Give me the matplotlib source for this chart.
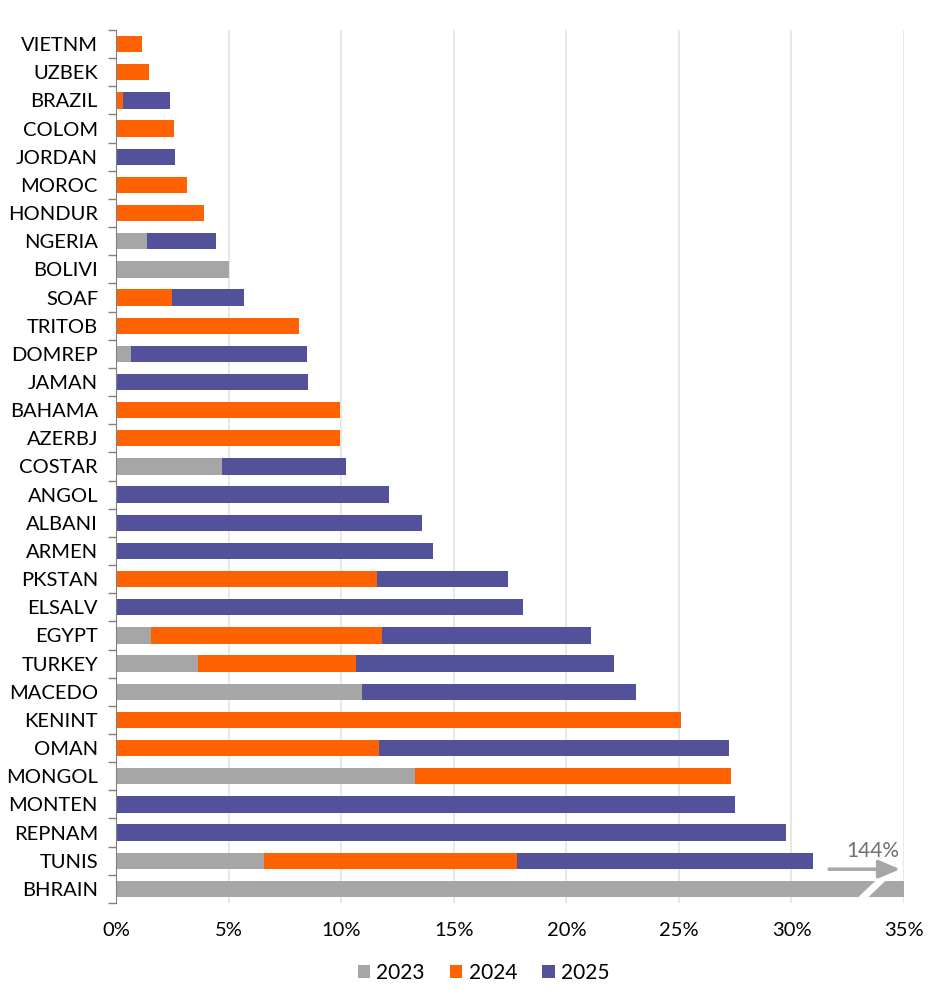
import matplotlib
matplotlib.use("Agg")
import matplotlib.pyplot as plt
from matplotlib.patches import Patch
import numpy as np

plt.rcParams['font.family'] = ['Lato', 'DejaVu Sans']

countries = ["VIETNM", "UZBEK", "BRAZIL", "COLOM", "JORDAN", "MOROC", "HONDUR",
             "NGERIA", "BOLIVI", "SOAF", "TRITOB", "DOMREP", "JAMAN", "BAHAMA",
             "AZERBJ", "COSTAR", "ANGOL", "ALBANI", "ARMEN", "PKSTAN", "ELSALV",
             "EGYPT", "TURKEY", "MACEDO", "KENINT", "OMAN", "MONGOL", "MONTEN",
             "REPNAM", "TUNIS", "BHRAIN"]

# cumulative ends (%)
end_2023 = [0, 0, 0, 0, 0, 0, 0, 1.36, 5.03, 0, 0, 0.67, 0, 0, 0, 4.70, 0, 0, 0,
            0, 0, 1.56, 3.63, 10.94, 0, 0, 13.26, 0, 0, 6.58, 144.0]
end_2024 = [1.14, 1.45, 0.30, 2.56, 0, 3.14, 3.89, 1.36, 5.03, 2.47, 8.12, 0.67, 0,
            9.94, 9.94, 4.70, 0, 0, 0, 11.58, 0, 11.80, 10.67, 10.94, 25.08, 11.70,
            27.31, 0, 0, 17.82, 144.0]
end_2025 = [1.14, 1.45, 2.38, 2.56, 2.60, 3.14, 3.89, 4.42, 5.03, 5.70, 8.12, 8.47,
            8.52, 9.94, 9.94, 10.21, 12.12, 13.59, 14.07, 17.39, 18.09, 21.09, 22.14,
            23.08, 25.08, 27.23, 27.31, 27.50, 29.75, 30.97, 144.0]

years = ["2023", "2024", "2025"]
colors = ["#a6a6a6", "#ff6200", "#525199"]

e23 = np.array(end_2023)
e24 = np.maximum(np.array(end_2024), e23)
e25 = np.maximum(np.array(end_2025), e24)
seg = [e23, e24 - e23, e25 - e24]
lefts = [np.zeros_like(e23), e23, e24]

fig = plt.figure(figsize=(9.52, 9.96), dpi=100)
ax = fig.add_axes([0.1219, 0.0934, 0.8277, 0.8765])

y = np.arange(len(countries))
for s, l, c in zip(seg, lefts, colors):
    ax.barh(y, s, left=l, height=0.58, color=c, edgecolor='none', zorder=2)

ax.set_xlim(0, 35)
ax.set_ylim(len(countries) - 0.5, -0.5)
ax.set_xticks(np.arange(0, 36, 5))
ax.set_xticklabels([f"{v}%" for v in range(0, 36, 5)], fontsize=14.5)
ax.tick_params(axis='x', length=0, pad=14)
ax.grid(axis='x', color='#e6e6e6', linewidth=1.3, zorder=0)

ax.set_yticks(y)
ax.set_yticklabels(countries, fontsize=14.5)
ax.tick_params(axis='y', length=0, pad=13)
ax.set_yticks(np.arange(-0.5, len(countries), 1), minor=True)
ax.tick_params(axis='y', which='minor', length=6, color='#808080', width=1)

for sp in ['top', 'right', 'bottom']:
    ax.spines[sp].set_visible(False)
ax.spines['left'].set_color('#808080')

# axis break on the Bahrain bar
bh = len(countries) - 1
ax.plot([33.1, 34.05], [bh + 0.36, bh - 0.36], color='white', linewidth=5,
        solid_capstyle='butt', zorder=3, clip_on=False)
ax.annotate("", xy=(34.95, bh - 0.7), xytext=(31.55, bh - 0.7),
            arrowprops=dict(arrowstyle='-|>,head_width=0.55,head_length=1.3',
                            color='#a6a6a6', lw=2.5), zorder=4)
ax.text(33.6, bh - 1.35, "144%", color='#707070', fontsize=15,
        ha='center', va='center')

handles = [Patch(facecolor=c, edgecolor='none') for c in colors]
fig.legend(handles, years, loc='center', bbox_to_anchor=(0.508, 0.023), ncol=3,
           frameon=False, fontsize=15, handlelength=0.6, handleheight=0.6,
           handletextpad=0.3, columnspacing=1.2)

fig.savefig("out.png", dpi=100)
